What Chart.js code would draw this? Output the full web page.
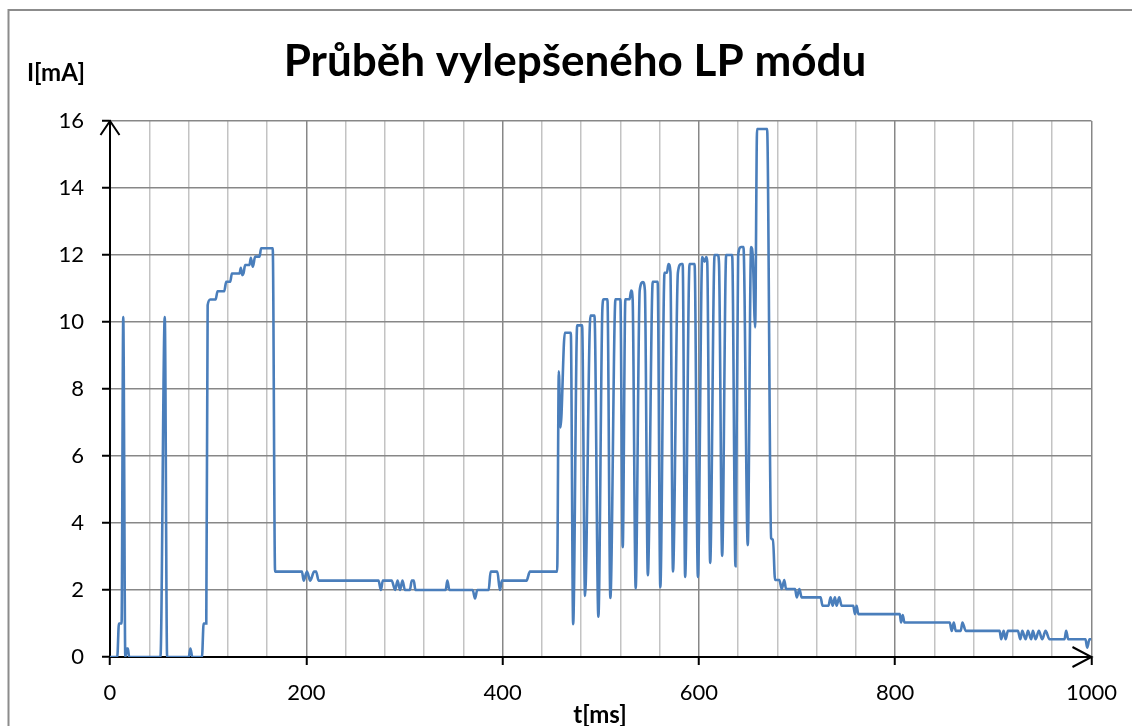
<!DOCTYPE html>
<html>
<head>
<meta charset="utf-8">
<script src="https://cdn.jsdelivr.net/npm/chart.js@4.4.1/dist/chart.umd.min.js"></script>
<style>
  html, body { margin: 0; padding: 0; background: #fff; }
  canvas { display: block; }
</style>
</head>
<body>
<canvas id="lp" width="1132" height="726"></canvas>
<script>
const timeMs = [
  0, 7.4, 9.1, 11.8, 13.5, 15.6, 17.3, 18.2, 19.5, 51.4, 55.8, 58.2, 80.2, 81.9, 83.9,
  93.7, 95.4, 98.1, 99.5, 102.2, 107.6, 109.6, 116.4, 118.4, 122.5, 124.2, 132, 133.3,
  134.7, 136, 137.7, 142.1, 143.5, 145.5, 147.9, 152.3, 154, 165.8, 168.2,
  195.6, 197.3, 200.7, 204, 208, 210, 212.5, 273.6, 276, 278, 287, 290.5, 293, 295.5,
  298, 300.5, 305.5, 307.5, 309.5, 311.2, 342, 343.7, 345.8, 369.5, 371.9, 374.2,
  385.8, 387.8, 394.6, 397.3, 399.3, 424.4, 427.8, 455.6,
  457.3, 459, 463.4, 469.5, 471.9, 476, 481, 484, 489.5, 493.6, 497.6, 501.7, 503,
  506.8, 509.8, 515, 520, 522.4, 525.1, 529.4, 531, 532.5, 535.6, 539.7, 543, 545,
  548, 553, 558, 560.7, 565, 567.4, 569, 571, 573.6, 578.6, 582, 583.5, 586, 590.5,
  595.6, 599, 603.4, 605.8, 607.5, 608.5, 611.5, 616, 619.3, 620.5, 623.7, 627.8,
  633.9, 637.3, 640, 643, 645.4, 649.8, 653.2, 655, 657.3, 659.3, 669.5, 673.6, 675.5,
  677.6, 682, 684.4, 687, 688.8, 698, 699.7, 702.4, 704.7, 724, 726, 732, 734.2, 736.3,
  738.6, 740.3, 743, 745.4, 757.3, 759, 760.7, 762.4, 804.7, 806, 807.7, 809.4, 855.6,
  857.6, 859.7, 861.7, 866.8, 868.5, 871.9, 906.4, 908, 910.5, 912.5, 914.9, 925,
  927.5, 929.5, 932.9, 935.3, 938.6, 940.3, 943, 946.4, 949.8, 953.2, 957.3, 972.5,
  974.2, 976.3, 993.9, 995.6, 998, 1000
];
const currentMA = [
  0, 0, 1.0, 1.0, 10.15, 0, 0.25, 0.25, 0, 0, 10.15, 0, 0, 0.25, 0,
  0, 1.0, 1.0, 10.5, 10.67, 10.67, 10.92, 10.92, 11.2, 11.2, 11.45, 11.45, 11.62,
  11.4, 11.45, 11.7, 11.7, 11.92, 11.65, 11.95, 11.95, 12.2, 12.2, 2.55,
  2.55, 2.28, 2.55, 2.28, 2.55, 2.55, 2.28, 2.28, 2.0, 2.28, 2.28, 2.0, 2.28, 2.0,
  2.28, 2.0, 2.0, 2.28, 2.28, 2.0, 2.0, 2.28, 2.0, 2.0, 1.75, 2.0,
  2.0, 2.55, 2.55, 2.0, 2.28, 2.28, 2.55, 2.55,
  8.53, 6.85, 9.68, 9.68, 0.98, 9.9, 9.9, 1.82, 10.19, 10.19, 1.2, 10.42, 10.68,
  10.68, 1.76, 10.68, 10.68, 3.28, 10.68, 10.68, 10.94, 10.68, 2.05, 10.94, 11.19, 10.94,
  2.44, 11.2, 11.2, 2.08, 11.47, 11.47, 11.73, 11.5, 2.55, 11.47, 11.73, 11.73, 2.39, 11.73,
  11.73, 2.39, 11.94, 11.8, 11.94, 11.8, 2.81, 12.0, 12.0, 11.75, 3.02, 12.0,
  12.0, 2.71, 12.0, 12.24, 12.24, 3.34, 12.24, 11.9, 9.84, 15.76, 15.76, 3.55, 3.5,
  2.3, 2.3, 2.03, 2.3, 2.03, 2.03, 1.78, 2.03, 1.78, 1.78, 1.53, 1.53, 1.78, 1.53,
  1.78, 1.53, 1.78, 1.53, 1.53, 1.28, 1.53, 1.28, 1.28, 1.03, 1.25, 1.03, 1.03,
  0.78, 1.03, 0.78, 0.78, 1.03, 0.78, 0.78, 0.53, 0.78, 0.53, 0.78, 0.78,
  0.53, 0.78, 0.53, 0.78, 0.53, 0.78, 0.53, 0.78, 0.53, 0.78, 0.53, 0.53,
  0.78, 0.53, 0.53, 0.28, 0.53, 0.53
];
const xTicksLabelled = [0, 200, 400, 600, 800, 1000];
const yTicks = [0, 2, 4, 6, 8, 10, 12, 14, 16];

const chartTitle = 'Průběh vylepšeného LP módu';
const yTitle = 'I[mA]';
const xTitle = 't[ms]';

const majorGrid = '#878787';
const minorGrid = '#c3c3c3';

const decor = {
  id: 'decor',
  afterDraw(chart) {
    const c = chart.ctx;
    const a = chart.chartArea;
    c.save();
    // outer frame
    c.strokeStyle = '#8c8c8c';
    c.lineWidth = 2;
    c.strokeRect(8.5, 10, 1300, 900);
    // titles
    c.fillStyle = '#000';
    c.textBaseline = 'middle';
    c.textAlign = 'center';
    c.font = 'bold 44px Lato';
    c.fillText(chartTitle, 575, 62);
    c.font = 'bold 24px Lato';
    c.textAlign = 'left';
    c.fillText(yTitle, 27, 73);
    c.textAlign = 'center';
    c.font = 'bold 24px Lato';
    c.fillText(xTitle, 600, 715);
    // arrow heads
    c.strokeStyle = '#000';
    c.lineWidth = 2;
    c.beginPath();
    c.moveTo(a.left - 9.5, a.top + 14);
    c.lineTo(a.left, a.top);
    c.lineTo(a.left + 9.5, a.top + 14);
    c.moveTo(a.right - 19, a.bottom - 10);
    c.lineTo(a.right, a.bottom);
    c.lineTo(a.right - 19, a.bottom + 10);
    c.stroke();
    c.restore();
  }
};

new Chart(document.getElementById('lp'), {
  type: 'scatter',
  data: {
    datasets: [{
      data: timeMs.map((t, i) => ({ x: t, y: currentMA[i] })),
      showLine: true,
      borderColor: '#4a7ebb',
      borderWidth: 2.6,
      pointRadius: 0,
      cubicInterpolationMode: 'monotone'
    }]
  },
  options: {
    responsive: false,
    animation: false,
    layout: { padding: { top: 121, right: 40, left: 0, bottom: 0 } },
    plugins: { legend: { display: false }, tooltip: { enabled: false } },
    scales: {
      x: {
        type: 'linear',
        min: 0,
        max: 1000,
        afterFit(s) { s.height = 69; },
        ticks: {
          stepSize: 40,
          maxTicksLimit: 30,
          autoSkip: false,
          maxRotation: 0,
          padding: 15,
          color: '#000',
          font: { family: 'Lato', size: 22 },
          callback: v => xTicksLabelled.includes(v) ? v : ''
        },
        grid: {
          color: ctx => xTicksLabelled.includes(ctx.tick.value) ? majorGrid : minorGrid,
          tickColor: ctx => xTicksLabelled.includes(ctx.tick.value) ? '#000' : 'rgba(0,0,0,0)',
          lineWidth: 1.5,
          tickLength: 8,
          tickWidth: 2
        },
        border: { color: '#000', width: 2 }
      },
      y: {
        min: 0,
        max: 16,
        afterFit(s) { s.width = 110; },
        afterBuildTicks(s) { s.ticks = yTicks.map(v => ({ value: v })); },
        ticks: {
          padding: 18,
          color: '#000',
          font: { family: 'Lato', size: 22 }
        },
        grid: {
          color: majorGrid,
          tickColor: '#000',
          lineWidth: 1.5,
          tickLength: 8,
          tickWidth: 2
        },
        border: { color: '#000', width: 2 }
      }
    }
  },
  plugins: [decor]
});
</script>
</body>
</html>
